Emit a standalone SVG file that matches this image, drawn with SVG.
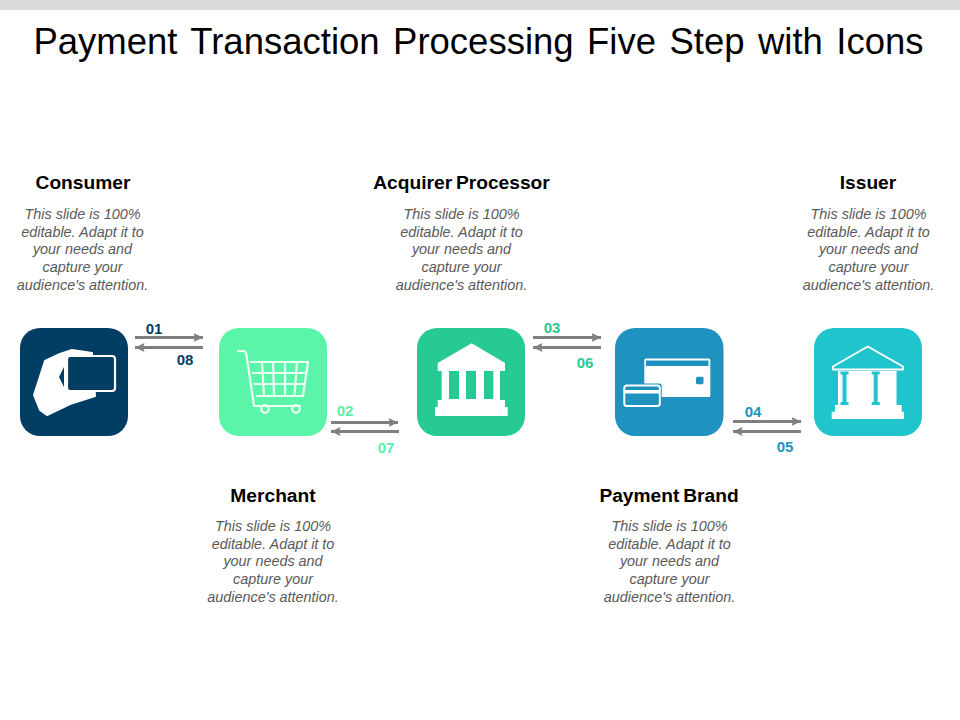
<svg xmlns="http://www.w3.org/2000/svg" width="960" height="720" viewBox="0 0 960 720">
<style>
text{font-family:"Liberation Sans",Arial,sans-serif;text-anchor:middle}
.t{font-size:36.500px;fill:#000;word-spacing:3.300px}
.h{font-size:19.200px;font-weight:bold;fill:#000}
.d{font-size:14.400px;font-style:italic;fill:#595959}
.n{font-size:15px;font-weight:bold}
.f{stroke:#7f7f7f;stroke-width:2.800;fill:none;marker-end:url(#ah)}
.c{fill:none;stroke:#ecfff5;stroke-width:2.200}
</style>
<defs>
<marker id="ah" markerUnits="userSpaceOnUse" markerWidth="11" markerHeight="10" refX="9.500" refY="4.500" orient="auto"><path d="M0 0L9.500 4.500L0 9L1.500 4.500Z" fill="#7f7f7f"/></marker>
<g id="body"><text class="d" x="0" y="0">This slide is 100%</text><text class="d" x="0" y="17.700">editable. Adapt it to</text><text class="d" x="0" y="35.200">your needs and</text><text class="d" x="0" y="53">capture your</text><text class="d" x="0" y="71">audience's attention.</text></g>
</defs>
<rect width="960" height="720" fill="#fff"/>
<rect width="960" height="10" fill="#d9d9d9"/>
<text class="t" x="478.500" y="53.500">Payment Transaction Processing Five Step with Icons</text>

<g id="connectors">
<path class="f" d="M135 337.500H203"/><path class="f" d="M203 347.500H135"/>
<path class="f" d="M331 422.500H398"/><path class="f" d="M399 431.500H331"/>
<path class="f" d="M533 337.500H601"/><path class="f" d="M601 347.500H533"/>
<path class="f" d="M733 421.500H801"/><path class="f" d="M801 431.500H733"/>
<text class="n" x="154" y="334" fill="#023d63">01</text>
<text class="n" x="185" y="365" fill="#023d63">08</text>
<text class="n" x="345" y="416" fill="#5bf0a9">02</text>
<text class="n" x="386" y="453" fill="#5bf0a9">07</text>
<text class="n" x="552" y="333" fill="#27c994">03</text>
<text class="n" x="585" y="368" fill="#27c994">06</text>
<text class="n" x="753" y="417" fill="#2092bf">04</text>
<text class="n" x="785" y="452" fill="#2092bf">05</text>
</g>

<g id="consumer">
<text class="h" x="83" y="188.500">Consumer</text>
<use href="#body" x="82.500" y="219"/>
<rect x="20" y="328" width="108" height="108" rx="20" fill="#023d63"/>
<path d="M34 395L45 361L60 354L72 350L92 353L95 396L70 404L47 415L40 410Z" fill="#fff" stroke="#fff" stroke-width="2" stroke-linejoin="round"/>
<path d="M59 377L64 367V387Z" fill="#023d63"/>
<rect x="67" y="356" width="48" height="35" rx="3" fill="#023d63" stroke="#fff" stroke-width="2.200"/>
</g>

<g id="merchant">
<text class="h" x="273" y="501.500">Merchant</text>
<use href="#body" x="273" y="531"/>
<rect x="219" y="328" width="108" height="108" rx="20" fill="#5bf5a9"/>
<path class="c" d="M237 351H243Q246 351 246.500 355L254 406H301"/>
<path class="c" d="M250 362H308L303 396H256"/>
<path class="c" d="M252 373H306.500M253.500 384H305"/>
<path class="c" d="M262 362L264 396M273 362L274 396M285 362L285 396M297 362L294.500 396"/>
<circle class="c" cx="265" cy="409" r="3.800"/><circle class="c" cx="296" cy="409" r="3.800"/>
</g>

<g id="acquirer-processor">
<text class="h" x="461.500" y="188.500" word-spacing="-1.500">Acquirer Processor</text>
<use href="#body" x="461.500" y="219"/>
<rect x="417" y="328" width="108" height="108" rx="20" fill="#27c994"/>
<path d="M471.700 343.300L505 363V371H437.700V363Z" fill="#fff"/>
<path d="M441.700 370H500V400H505V407H507.700V416H435V407H437.700V400H441.700Z" fill="#fff"/>
<path d="M449 371H459V399H449ZM466 371H476V399H466ZM484 371H493.300V399H484Z" fill="#27c994"/>
</g>

<g id="payment-brand">
<text class="h" x="669" y="501.500" word-spacing="-1.500">Payment Brand</text>
<use href="#body" x="669.500" y="531"/>
<rect x="615" y="328" width="108.500" height="108" rx="20" fill="#2092bf"/>
<rect x="644.300" y="358.500" width="66" height="38.500" rx="1.500" fill="#fff"/>
<rect x="646" y="360.500" width="62.500" height="5.500" fill="#2092bf"/>
<rect x="696" y="376.700" width="7.500" height="7.500" rx="1.500" fill="#2092bf"/>
<rect x="621.800" y="383.500" width="40" height="24.500" rx="3" fill="#2092bf"/>
<rect x="624.300" y="385.500" width="35.500" height="20.500" rx="2.500" fill="#2092bf" stroke="#fff" stroke-width="2"/>
<rect x="625" y="390" width="34" height="3.500" fill="#fff"/>
</g>

<g id="issuer">
<text class="h" x="868" y="188.500">Issuer</text>
<use href="#body" x="868.500" y="219"/>
<rect x="814" y="328" width="108" height="108" rx="20" fill="#20c4cc"/>
<path d="M867.700 346.500L903 366.500V369.500H833V366.500Z" fill="#20c4cc" stroke="#fff" stroke-width="2" stroke-linejoin="round"/>
<path d="M838 371H896.500V405H901.700V411.700H904V419H831.700V411.700H835V405H838Z" fill="#fff"/>
<path d="M840.500 371.500H848.500V374.500H846.500V402H848.500V405H840.500V402H842.500V374.500H840.500ZM871.700 371.500H879.700V374.500H877.700V402H879.700V405H871.700V402H873.700V374.500H871.700Z" fill="#20c4cc"/>
</g>
</svg>
